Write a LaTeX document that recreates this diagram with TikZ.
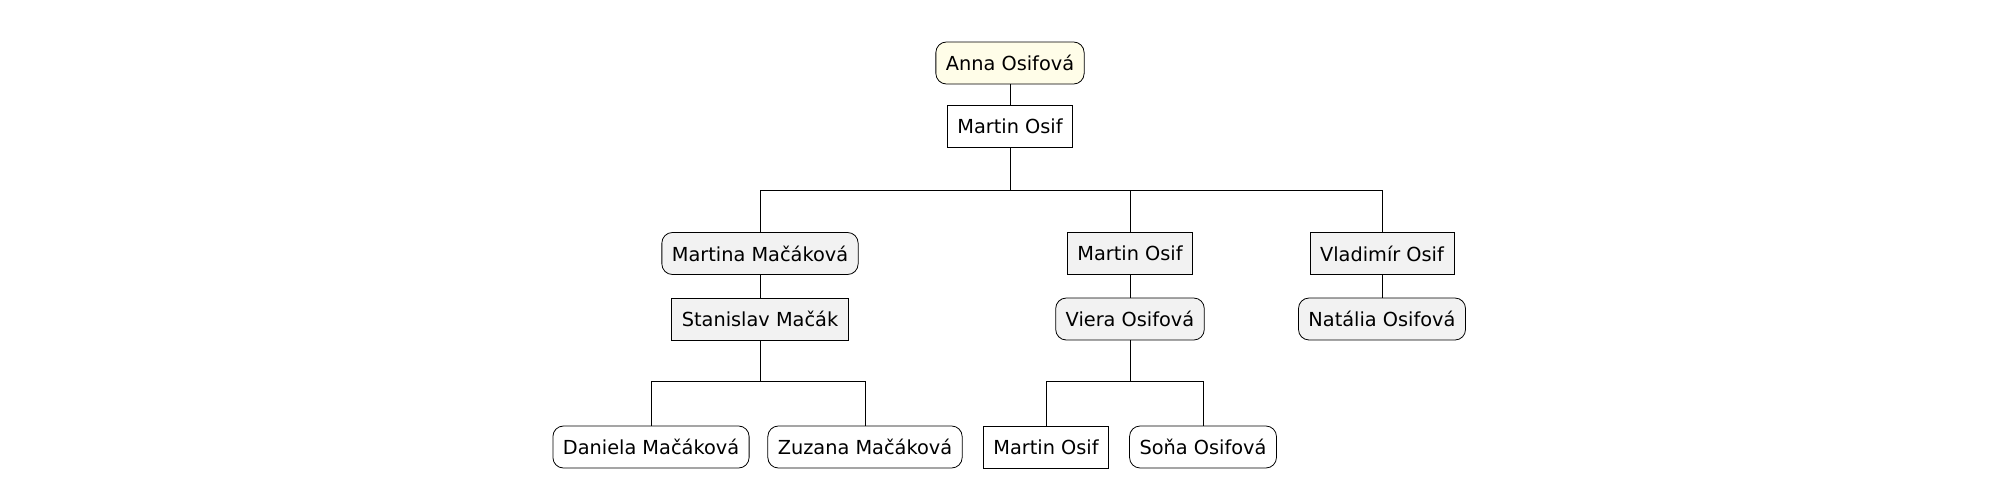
\documentclass[tikz,border=0pt]{standalone}
\usepackage{fontspec}
\setmainfont{DejaVu Sans}
\usetikzlibrary{positioning}

\definecolor{rootfill}{HTML}{FFFDE8}
\definecolor{kinfill}{HTML}{F2F2F2}

\begin{document}
\begin{tikzpicture}[
  person/.style={draw, line width=0.45pt, minimum height=0.84cm, inner xsep=0.2cm, font=\fontsize{11}{13}\selectfont},
  female/.style={person, rounded corners=6pt},
  male/.style={person},
  link/.style={line width=0.45pt},
]
\useasboundingbox (0,0) rectangle (40,-9.78);

% === ROOT ===
\node[female, fill=rootfill] (anna) at (20.2,-1.26) {Anna Osifová};
\node[male, fill=white] (martin1) at (20.2,-2.52) {Martin Osif};

% === CHILDREN ===
\node[female, fill=kinfill] (martina) at (15.2,-5.07) {Martina Mačáková};
\node[male, fill=kinfill] (stanislav) at (15.2,-6.38) {Stanislav Mačák};
\node[male, fill=kinfill] (martin2) at (22.6,-5.07) {Martin Osif};
\node[female, fill=kinfill] (viera) at (22.6,-6.38) {Viera Osifová};
\node[male, fill=kinfill] (vladimir) at (27.64,-5.07) {Vladimír Osif};
\node[female, fill=kinfill] (natalia) at (27.64,-6.38) {Natália Osifová};

% === GRANDCHILDREN ===
\node[female, fill=white] (daniela) at (13.02,-8.94) {Daniela Mačáková};
\node[female, fill=white] (zuzana) at (17.3,-8.94) {Zuzana Mačáková};
\node[male, fill=white] (martin3) at (20.92,-8.94) {Martin Osif};
\node[female, fill=white] (sona) at (24.06,-8.94) {Soňa Osifová};

% couples
\draw[link] (anna) -- (martin1);
\draw[link] (martina) -- (stanislav);
\draw[link] (martin2) -- (viera);
\draw[link] (vladimir) -- (natalia);

% descent
\coordinate (bus1) at (20.2,-3.8);
\coordinate (bus2) at (15.2,-7.62);
\coordinate (bus3) at (22.6,-7.62);
\draw[link] (martin1) -- (bus1);
\draw[link] (bus1) -| (martina);
\draw[link] (bus1) -| (martin2);
\draw[link] (bus1) -| (vladimir);
\draw[link] (stanislav) -- (bus2);
\draw[link] (bus2) -| (daniela);
\draw[link] (bus2) -| (zuzana);
\draw[link] (viera) -- (bus3);
\draw[link] (bus3) -| (martin3);
\draw[link] (bus3) -| (sona);
\end{tikzpicture}
\end{document}
